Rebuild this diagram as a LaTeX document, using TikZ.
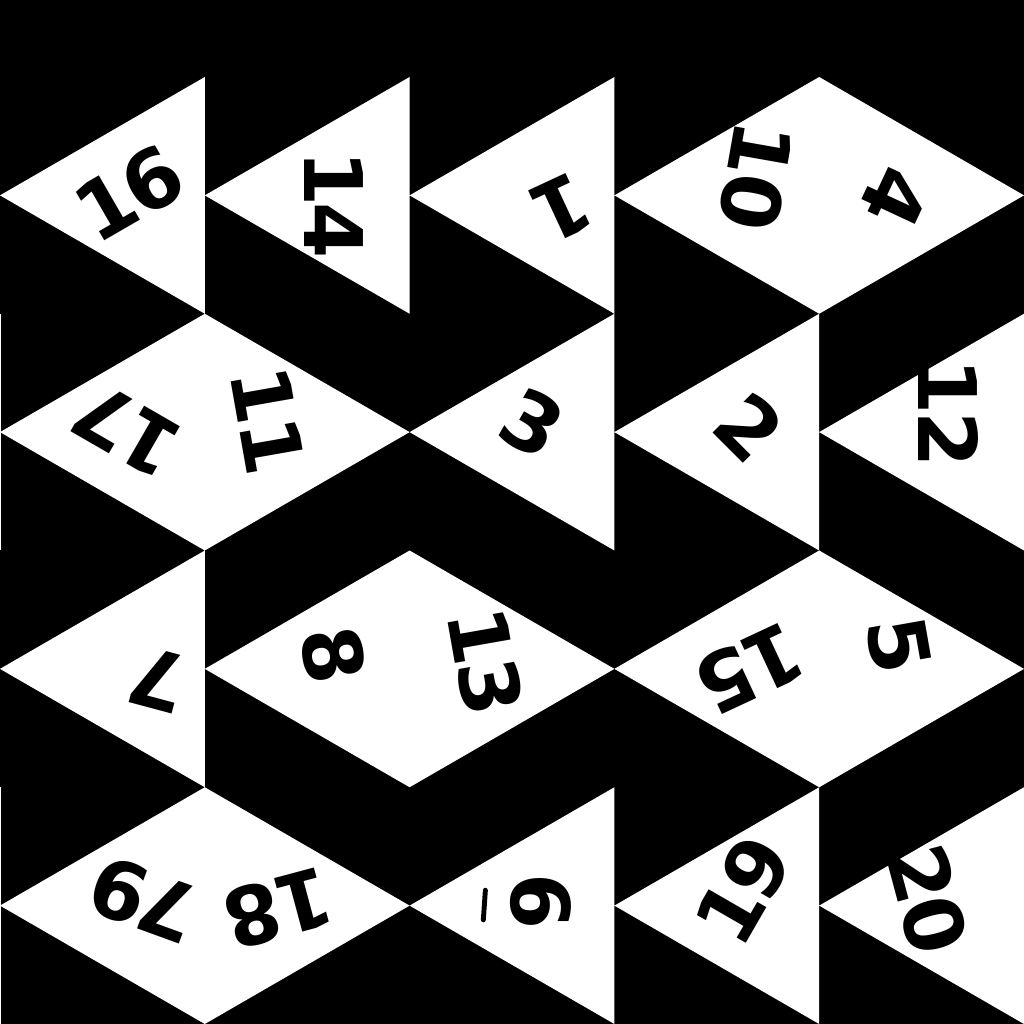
\documentclass[tikz,border=0pt]{standalone}
\usepackage{fontspec}
\usepackage{tikz}
\usetikzlibrary{calc}
\newfontfamily\dicefont[LetterSpace=-5]{DejaVu Sans}
\tikzset{face/.style={fill=white}}
\tikzset{num/.style={font=\dicefont\bfseries\fontsize{23}{23}\selectfont, text=black, inner sep=0pt}}

\begin{document}
\begin{tikzpicture}[x=2.048cm, y=1.18375cm]
	\fill[black] (0,0) rectangle (5,8.6505);
	\useasboundingbox (0,0) rectangle (5,8.6505);
	
	% faces, top row first (one path, so shared edges leave no seam)
	\fill[face]
	(0,7) -- (1,8) -- (1,6) -- cycle
	(1,7) -- (2,8) -- (2,6) -- cycle
	(2,7) -- (3,8) -- (3,6) -- cycle
	(3,7) -- (4,8) -- (4,6) -- cycle
	(4,8) -- (4,6) -- (5,7) -- cycle
	
	(0,5) -- (1,6) -- (1,4) -- cycle
	(1,6) -- (1,4) -- (2,5) -- cycle
	(2,5) -- (3,6) -- (3,4) -- cycle
	(3,5) -- (4,6) -- (4,4) -- cycle
	(4,5) -- (5,6) -- (5,4) -- cycle
	
	(0,3) -- (1,4) -- (1,2) -- cycle
	(1,3) -- (2,4) -- (2,2) -- cycle
	(2,4) -- (2,2) -- (3,3) -- cycle
	(3,3) -- (4,4) -- (4,2) -- cycle
	(4,4) -- (4,2) -- (5,3) -- cycle
	
	(0,1) -- (1,2) -- (1,0) -- cycle
	(1,2) -- (1,0) -- (2,1) -- cycle
	(2,1) -- (3,2) -- (3,0) -- cycle
	(3,1) -- (4,2) -- (4,0) -- cycle
	(4,1) -- (5,2) -- (5,0) -- cycle;
	
	% thin slivers on the left border
	\fill[face] (0,4) rectangle (0.007,6);
	\fill[face] (0,0) rectangle (0.007,2);
	
	% numbers
	\node[num, rotate=30] (f16) at (0.63,7.02) {16};
	\node[num, rotate=-90] (f14) at (1.63,6.92) {14};
	\node[num, rotate=-155] (f1) at (2.74,6.89) {1};
	\node[num, rotate=-100] (f10) at (3.69,7.16) {10};
	\node[num, rotate=-115] (f4) at (4.37,6.98) {4};
	
	\node[num, rotate=150] (f17) at (0.62,5.02) {17};
	\node[num, rotate=-80] (f11) at (1.31,5.10) {11};
	\node[num, rotate=-30] (f3) at (2.60,5.08) {3};
	\node[num, rotate=-45] (f2) at (3.66,5.04) {2};
	\node[num, rotate=-90] (f12) at (4.63,5.16) {12};
	
	\node[num, rotate=165] (f7) at (0.77,2.91) {7};
	\node[num, rotate=-80] (f8) at (1.63,3.12) {8};
	\node[num, rotate=-80] (f13) at (2.37,3.06) {13};
	\node[num, rotate=-155] (f15) at (3.66,3.00) {15};
	\node[num, rotate=-80] (f5) at (4.39,3.20) {5};
	
	\node[num, rotate=160] (f79) at (0.70,1.05) {79};
	\node[num, rotate=-165] (f18) at (1.36,0.98) {18};
	\node[num, rotate=-90] (f6) at (2.64,1.03) {6};
	\node[num, rotate=60] (f19) at (3.63,1.13) {19};
	\node[num, rotate=-75] (f20) at (4.53,1.05) {20};
	
	% mark under the 6
	\draw[line width=1.4pt, line cap=round] (2.37,1.13) -- (2.36,0.88);
\end{tikzpicture}
\end{document}
